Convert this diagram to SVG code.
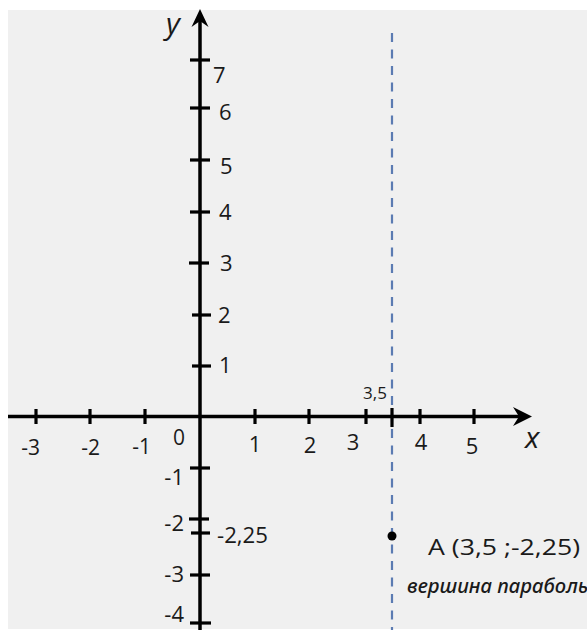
<svg xmlns="http://www.w3.org/2000/svg" width="587" height="630" viewBox="0 0 587 630">
  <style>
    .ax { stroke: #000; stroke-width: 3.5; fill: none; }
    .tk { stroke: #000; stroke-width: 3.2; fill: none; }
    .lb { font-family: "Open Sans", "Noto Sans", sans-serif; font-size: 22px; fill: #1a1a1a; }
    .lbs { font-family: "Open Sans", "Noto Sans", sans-serif; font-size: 21px; fill: #1a1a1a; }
    .var { font-family: "Open Sans", "Noto Sans", sans-serif; font-size: 30px; font-style: italic; fill: #1a1a1a; }
    .note { font-family: "Noto Sans", "DejaVu Sans", sans-serif; font-size: 19px; font-style: italic; font-weight: 500; fill: #1a1a1a; }
    .dash { stroke: #5b7bb2; stroke-width: 2.2; stroke-dasharray: 9 7.5; fill: none; }
  </style>
  <rect x="0" y="0" width="587" height="630" fill="#ffffff"/>
  <rect x="8" y="10" width="579" height="619" fill="#f0f0f0"/>

  <g id="guide">
    <line class="dash" x1="392" y1="33" x2="392" y2="630"/>
  </g>

  <g id="connectors">
    <line class="ax" x1="8" y1="416.5" x2="524" y2="416.5"/>
    <path d="M532,416.5 L513,407 L519,416.5 L513,426 Z" fill="#000"/>
    <line class="ax" x1="200" y1="18" x2="200" y2="630"/>
    <path d="M200,9 L191.5,27 L200,21 L208.5,27 Z" fill="#000"/>
  </g>

  <g id="x-ticks">
    <line class="tk" x1="36" y1="409" x2="36" y2="424"/>
    <line class="tk" x1="90" y1="409" x2="90" y2="424"/>
    <line class="tk" x1="145" y1="409" x2="145" y2="424"/>
    <line class="tk" x1="255" y1="409" x2="255" y2="424"/>
    <line class="tk" x1="309" y1="409" x2="309" y2="424"/>
    <line class="tk" x1="366" y1="409" x2="366" y2="424"/>
    <line class="tk" x1="392" y1="408" x2="392" y2="427"/>
    <line class="tk" x1="420" y1="409" x2="420" y2="424"/>
    <line class="tk" x1="474" y1="409" x2="474" y2="424"/>
  </g>

  <g id="y-ticks">
    <line class="tk" x1="190" y1="60" x2="210" y2="60"/>
    <line class="tk" x1="190" y1="108" x2="210" y2="108"/>
    <line class="tk" x1="190" y1="160" x2="210" y2="160"/>
    <line class="tk" x1="190" y1="212" x2="210" y2="212"/>
    <line class="tk" x1="189" y1="263" x2="209" y2="263"/>
    <line class="tk" x1="192" y1="315" x2="211" y2="315"/>
    <line class="tk" x1="192" y1="366" x2="211" y2="366"/>
    <line class="tk" x1="190" y1="468" x2="210" y2="468"/>
    <line class="tk" x1="189" y1="519" x2="209" y2="519"/>
    <line class="tk" x1="191" y1="533" x2="210" y2="533"/>
    <line class="tk" x1="190" y1="575" x2="210" y2="575"/>
    <line class="tk" x1="190" y1="623" x2="211" y2="623"/>
  </g>

  <g id="x-labels">
    <text class="lbs" x="40" y="455" text-anchor="end">-3</text>
    <text class="lbs" x="100" y="455" text-anchor="end">-2</text>
    <text class="lbs" x="151" y="454" text-anchor="end">-1</text>
    <text class="lbs" x="179" y="445" text-anchor="middle">0</text>
    <text class="lb" x="255" y="452" text-anchor="middle">1</text>
    <text class="lb" x="310" y="453" text-anchor="middle">2</text>
    <text class="lb" x="353" y="450" text-anchor="middle">3</text>
    <text class="lb" x="421" y="450" text-anchor="middle">4</text>
    <text class="lb" x="472" y="454" text-anchor="middle">5</text>
    <text class="lbs" x="375" y="399" text-anchor="middle" style="font-size:17px">3,5</text>
    <text class="var" x="525" y="448">x</text>
  </g>

  <g id="y-labels">
    <text class="var" x="166" y="34">y</text>
    <text class="lb" x="213" y="83">7</text>
    <text class="lb" x="219" y="120">6</text>
    <text class="lb" x="220" y="174">5</text>
    <text class="lb" x="219" y="220">4</text>
    <text class="lb" x="220" y="271">3</text>
    <text class="lb" x="218" y="323">2</text>
    <text class="lb" x="219" y="373">1</text>
    <text class="lb" x="184" y="485" text-anchor="end">-1</text>
    <text class="lb" x="184" y="531" text-anchor="end">-2</text>
    <text class="lb" x="217" y="543" textLength="51" lengthAdjust="spacingAndGlyphs">-2,25</text>
    <text class="lb" x="184" y="582" text-anchor="end">-3</text>
    <text class="lb" x="184" y="622" text-anchor="end">-4</text>
  </g>

  <g id="point-A">
    <circle cx="392" cy="536" r="4.5" fill="#000"/>
    <text class="lb" x="428" y="555" textLength="152" lengthAdjust="spacingAndGlyphs">A (3,5 ;-2,25)</text>
    <text class="note" x="407" y="593" textLength="186" lengthAdjust="spacingAndGlyphs">вершина параболы</text>
  </g>
</svg>
